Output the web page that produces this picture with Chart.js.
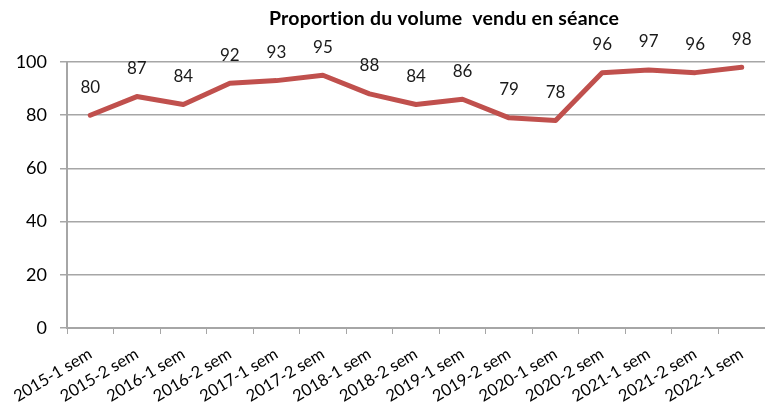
<!DOCTYPE html>
<html>
<head>
<meta charset="utf-8">
<script src="https://cdn.jsdelivr.net/npm/chart.js@4.4.0/dist/chart.umd.min.js"></script>
<style>
  html, body { margin: 0; padding: 0; background: #fff; }
  #wrap { width: 765px; height: 403px; }
</style>
</head>
<body>
<div id="wrap"><canvas id="c"></canvas></div>
<script>
// chart data
const chartTitle = 'Proportion du volume  vendu en séance';
const periods = ['2015-1 sem', '2015-2 sem', '2016-1 sem', '2016-2 sem', '2017-1 sem',
  '2017-2 sem', '2018-1 sem', '2018-2 sem', '2019-1 sem', '2019-2 sem',
  '2020-1 sem', '2020-2 sem', '2021-1 sem', '2021-2 sem', '2022-1 sem'];
const shareSold = [80, 87, 84, 92, 93, 95, 88, 84, 86, 79, 78, 96, 97, 96, 98];
const yTicks = [0, 20, 40, 60, 80, 100];

const FONT = 'Lato, "Open Sans", sans-serif';
const GRID = '#a6a6a6';

// labels above each point, like the excel "above" position
const valueLabels = {
  id: 'valueLabels',
  afterDatasetsDraw(chart) {
    const ctx = chart.ctx;
    const meta = chart.getDatasetMeta(0);
    ctx.save();
    ctx.font = '17px ' + FONT;
    ctx.fillStyle = '#1a1a1a';
    ctx.textAlign = 'center';
    ctx.textBaseline = 'middle';
    meta.data.forEach((pt, i) => {
      ctx.fillText(String(shareSold[i]), pt.x, pt.y - 28);
    });
    ctx.restore();
  }
};

const titlePlugin = {
  id: 'titlePlugin',
  afterDraw(chart) {
    const ctx = chart.ctx;
    ctx.save();
    ctx.font = 'bold 19.5px ' + FONT;
    ctx.letterSpacing = '0.2px'; // keeps "ti" from turning into a ligature
    ctx.fillStyle = '#000';
    ctx.textAlign = 'center';
    ctx.textBaseline = 'middle';
    ctx.fillText(chartTitle, 444, 19);
    ctx.restore();
  }
};

new Chart(document.getElementById('c'), {
  type: 'line',
  data: {
    labels: periods,
    datasets: [{
      data: shareSold,
      borderColor: '#c0504d',
      borderWidth: 5,
      borderJoinStyle: 'round',
      borderCapStyle: 'round',
      pointRadius: 0,
      tension: 0,
      fill: false
    }]
  },
  options: {
    responsive: true,
    maintainAspectRatio: false,
    animation: false,
    layout: { padding: { top: 62, right: 0, left: 0, bottom: 0 } },
    plugins: {
      legend: { display: false },
      title: { display: false },
      tooltip: { enabled: false }
    },
    scales: {
      x: {
        offset: true,
        grid: {
          display: true,
          offset: true,
          drawOnChartArea: false,
          drawTicks: true,
          tickLength: 6,
          color: GRID
        },
        border: { display: true, color: GRID, width: 2 },
        ticks: {
          minRotation: 31,
          maxRotation: 31,
          autoSkip: false,
          padding: 10,
          color: '#000',
          font: { family: FONT, size: 16.5 }
        },
        afterFit(s) { s.height = 75; }
      },
      y: {
        min: 0,
        max: 100,
        afterBuildTicks(s) { s.ticks = yTicks.map(v => ({ value: v })); },
        grid: {
          color: GRID,
          lineWidth: 1.5,
          tickLength: 7,
          drawTicks: true
        },
        border: { display: true, color: GRID, width: 2 },
        ticks: {
          padding: 13,
          color: '#000',
          font: { family: FONT, size: 18 }
        },
        afterFit(s) { s.width = 67; }
      }
    }
  },
  plugins: [valueLabels, titlePlugin]
});
</script>
</body>
</html>
